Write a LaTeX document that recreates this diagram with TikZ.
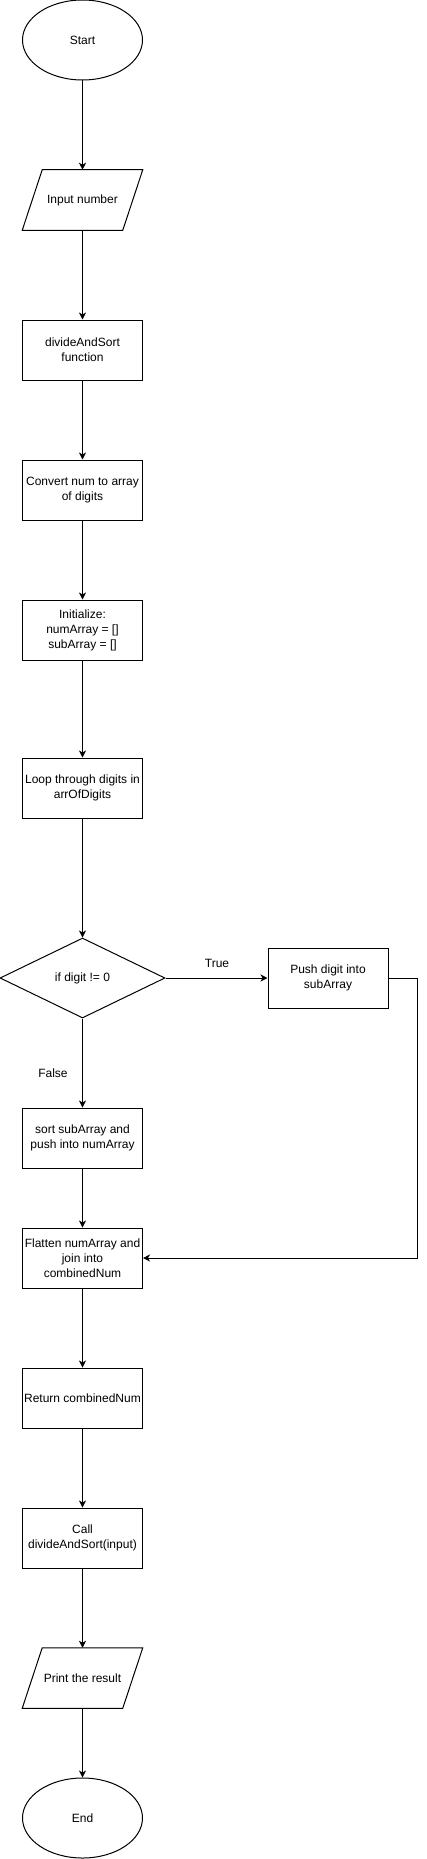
\documentclass[tikz,border=0pt]{standalone}
\usepackage{fontspec}
\setmainfont{Liberation Sans}
\usetikzlibrary{arrows.meta,shapes.geometric}
\begin{document}
\begin{tikzpicture}[x=0.75pt,y=-0.75pt,
  every node/.style={font=\fontsize{9}{11.25}\selectfont, align=center, inner sep=0pt},
  proc/.style={draw, line width=0.75pt, minimum width=90pt, minimum height=45pt},
  term/.style={draw, ellipse, line width=0.75pt, minimum width=90pt, minimum height=60pt},
  io/.style={minimum width=90pt, minimum height=45pt},
  dec/.style={draw, diamond, line width=0.75pt, minimum width=123.75pt, minimum height=60pt},
  outline/.style={line width=0.75pt},
  flow/.style={draw, line width=0.75pt, -{Stealth[length=5.25pt,width=5.25pt,inset=1.5pt]}}]
\useasboundingbox (0,0) rectangle (426,1859);

\node[term] (start) at (82.5,40) {Start};
\node[io] (inp) at (82.5,200) {Input number};
\draw[outline] ([xshift=15pt]inp.north west) -- (inp.north east) -- ([xshift=-15pt]inp.south east) -- (inp.south west) -- cycle;
\node[proc] (das) at (82.5,350) {divideAndSort\\function};
\node[proc] (conv) at (82.5,490) {Convert num to array\\of digits};
\node[proc] (init) at (82.5,630) {Initialize:\\numArray = []\\subArray = []};
\node[proc] (loop) at (82.5,788) {Loop through digits in\\arrOfDigits};
\node[dec] (cond) at (82.5,978) {if digit != 0};
\node[proc] (push) at (328,978) {Push digit into\\subArray};
\node[proc] (sort) at (82.5,1138) {sort subArray and\\push into numArray};
\node[proc] (flat) at (82.5,1258) {Flatten numArray and\\join into\\combinedNum};
\node[proc] (ret) at (82.5,1398) {Return combinedNum};
\node[proc] (call) at (82.5,1538) {Call\\divideAndSort(input)};
\node[io] (prn) at (82.5,1678) {Print the result};
\draw[outline] ([xshift=15pt]prn.north west) -- (prn.north east) -- ([xshift=-15pt]prn.south east) -- (prn.south west) -- cycle;
\node[term] (end) at (82.5,1818) {End};

\node (tlbl) at (217,963) {True};
\node (flbl) at (53,1073) {False};

\coordinate (rt) at (417,978);
\coordinate (rb) at (417,1258);

\draw[flow] (start) -- (inp);
\draw[flow] (inp) -- (das);
\draw[flow] (das) -- (conv);
\draw[flow] (conv) -- (init);
\draw[flow] (init) -- (loop);
\draw[flow] (loop) -- (cond);
\draw[flow] (cond.east) -- (push.west);
\draw[flow] (cond.south) -- (sort.north);
\draw[flow] (push.east) -- (rt) -- (rb) -- (flat.east);
\draw[flow] (sort) -- (flat);
\draw[flow] (flat) -- (ret);
\draw[flow] (ret) -- (call);
\draw[flow] (call) -- (prn);
\draw[flow] (prn) -- (end);
\end{tikzpicture}
\end{document}
